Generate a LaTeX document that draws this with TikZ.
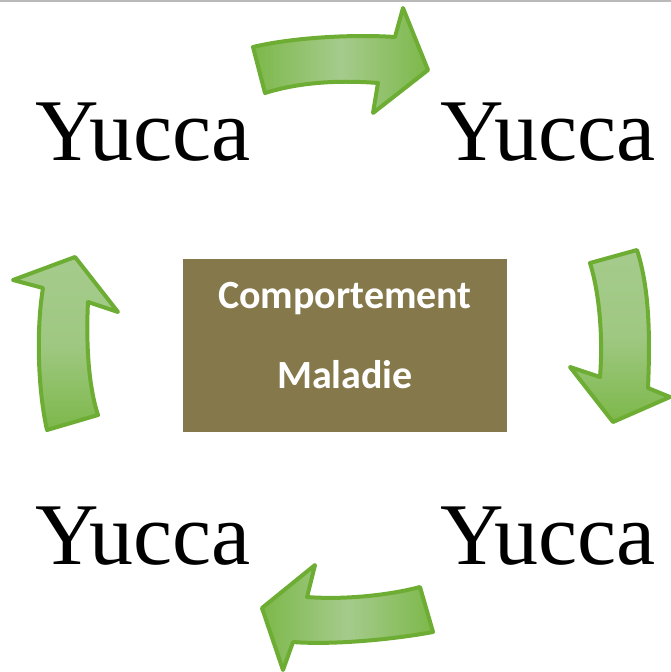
\documentclass[tikz,border=0pt]{standalone}
\usepackage{fontspec}
\setmainfont{Liberation Serif}
\newfontfamily\boxfont{Carlito}
\begin{document}
\begin{tikzpicture}[x=0.75pt,y=-0.75pt,
  yucca/.style={font=\fontsize{66}{72}\selectfont, anchor=base west, inner sep=0pt},
  boxtext/.style={font=\boxfont\bfseries\fontsize{30}{34}\selectfont, text=white, anchor=base, inner sep=0pt},
  garrow/.style={draw=arrowline, line width=3pt, line join=round},
]
\definecolor{arrowline}{HTML}{6EAD33}
\definecolor{arrowdark}{HTML}{7DB84A}
\definecolor{arrowlight}{HTML}{A5CB8C}
\definecolor{boxfill}{HTML}{85784A}
\useasboundingbox (0,0) rectangle (671,672);
\fill[white] (0,0) rectangle (671,672);
\draw[gray!55, line width=1.8pt] (0,1) -- (671,1);

% centre box
\fill[boxfill] (183,259) rectangle (507,432);
\node[boxtext] (t1) at (345,308) {Comportement};
\node[boxtext] (t2) at (345,388) {Maladie};

% Yucca labels
\node[yucca] (y1) at (35,160) {Yucca};
\node[yucca] (y2) at (440,160) {Yucca};
\node[yucca] (y3) at (35,564) {Yucca};
\node[yucca] (y4) at (440,564) {Yucca};

% top arrow
\path[garrow, left color=arrowdark, right color=arrowdark, middle color=arrowlight]
 (253,47) .. controls (290,38) and (350,34) .. (395,37) -- (403,8) -- (428,70) -- (373,113) -- (378,83)
 .. controls (340,80) and (300,82) .. (265,93) -- cycle;

% right arrow
\path[garrow, top color=arrowlight, bottom color=arrowdark, middle color=arrowlight!85!arrowdark]
 (590,263) -- (637,250) .. controls (650,290) and (650,340) .. (648,388) -- (670,397) -- (613,422)
 -- (570,367) -- (600,377) .. controls (603,340) and (600,295) .. (590,263) -- cycle;

% left arrow
\path[garrow, top color=arrowlight, bottom color=arrowdark, middle color=arrowlight!85!arrowdark]
 (47,430) -- (98,415) .. controls (88,385) and (86,340) .. (88,302) -- (118,312) -- (75,257)
 -- (13,280) -- (43,288) .. controls (36,330) and (38,390) .. (47,430) -- cycle;

% bottom arrow
\path[garrow, left color=arrowdark, right color=arrowdark, middle color=arrowlight]
 (420,587) -- (433,632) .. controls (390,640) and (330,645) .. (293,642) -- (283,670) -- (262,608)
 -- (315,565) -- (307,597) .. controls (345,600) and (390,595) .. (420,587) -- cycle;
\end{tikzpicture}
\end{document}
